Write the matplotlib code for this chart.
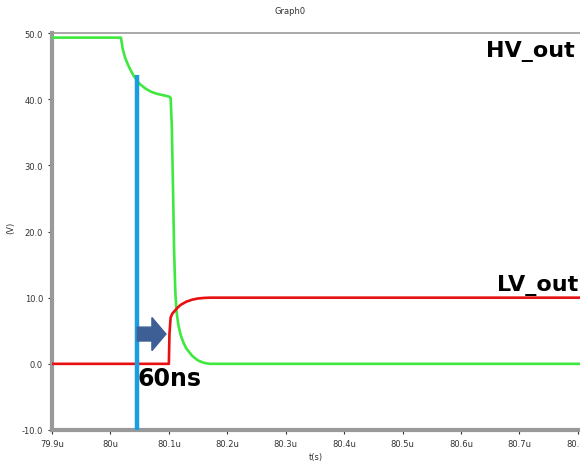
import matplotlib.pyplot as plt
from matplotlib.patches import FancyArrow

# HV_out (green) - t in us, V
t_hv = [79.9, 80.018, 80.021, 80.025, 80.03, 80.035, 80.04, 80.045, 80.05, 80.06, 80.07, 80.08, 80.09,
        80.1, 80.103, 80.105, 80.107, 80.109, 80.111, 80.113, 80.116, 80.12, 80.125, 80.13, 80.14,
        80.15, 80.16, 80.17, 80.85]
v_hv = [49.3, 49.3, 47.6, 46.3, 45.2, 44.3, 43.5, 42.9, 42.3, 41.6, 41.1, 40.8, 40.6,
        40.4, 40.2, 36, 27, 17, 11, 8, 6, 4.4, 3.2, 2.3, 1.2,
        0.5, 0.15, 0.0, 0.0]

# LV_out (red)
t_lv = [79.9, 80.1, 80.101, 80.103, 80.106, 80.11, 80.115, 80.12, 80.13, 80.14, 80.15, 80.16,
        80.17, 80.18, 80.85]
v_lv = [0.0, 0.0, 4.5, 7.0, 7.6, 8.0, 8.5, 8.9, 9.4, 9.7, 9.88, 9.96, 10.0, 10.0, 10.0]

# marker line and arrow
t_mark = 80.045
v_mark_top = 43.6
arrow_v = 4.5
arrow_t0, arrow_tip = 80.046, 80.095

xticks = [79.9, 80.0, 80.1, 80.2, 80.3, 80.4, 80.5, 80.6, 80.7, 80.8]
xlabels = ['79.9u', '80u', '80.1u', '80.2u', '80.3u', '80.4u', '80.5u', '80.6u', '80.7u', '80.8u']
yticks = [-10, 0, 10, 20, 30, 40, 50]

fig = plt.figure(figsize=(5.8, 4.64), dpi=100)
ax = fig.add_axes([52/580, 1-431/464, 528/580, 397/464])

ax.plot(t_hv, v_hv, color='#3fe83f', lw=1.9, zorder=3)
ax.plot(t_lv, v_lv, color='#e81010', lw=1.9, zorder=3)
ax.plot([t_mark, t_mark], [-10, v_mark_top], color='#1a9ee0', lw=3.2, zorder=4, solid_capstyle='butt')

hl = 0.024
ax.add_patch(FancyArrow(arrow_t0, arrow_v, arrow_tip - arrow_t0 - hl, 0, width=2.1,
                        head_width=5.0, head_length=hl, length_includes_head=False,
                        color='#3e5f95', zorder=5))

ax.text(80.046, -0.4, '60ns', fontsize=17, fontweight='bold', va='top', ha='left', zorder=6)
ax.text(80.794, 46.5, 'HV_out', fontsize=16, fontweight='bold', va='baseline', ha='right')
ax.text(80.801, 11.2, 'LV_out', fontsize=16, fontweight='bold', va='baseline', ha='right')

ax.set_xlim(79.9, 80.8036)
ax.set_ylim(-10, 50)
ax.set_xticks(xticks)
ax.set_xticklabels(xlabels)
ax.set_yticks(yticks)
ax.set_yticklabels(['%.1f' % y for y in yticks])
ax.tick_params(labelsize=6, colors='#333333', length=3, width=0.8)

for s in ['left', 'bottom']:
    ax.spines[s].set_color('#999999')
    ax.spines[s].set_linewidth(3)
ax.spines['top'].set_color('#999999')
ax.spines['top'].set_linewidth(1.2)
ax.spines['right'].set_visible(False)

fig.text(0.5, 0.985, 'Graph0', fontsize=6, ha='center', va='top', color='#333333')
fig.text(0.018, 1-228/464, '(V)', fontsize=6, rotation=90, ha='center', va='center', color='#333333')
fig.text(316/580, 1-458/464, 't(s)', fontsize=6, ha='center', va='center', color='#333333')

fig.savefig('out.png', dpi=100)
